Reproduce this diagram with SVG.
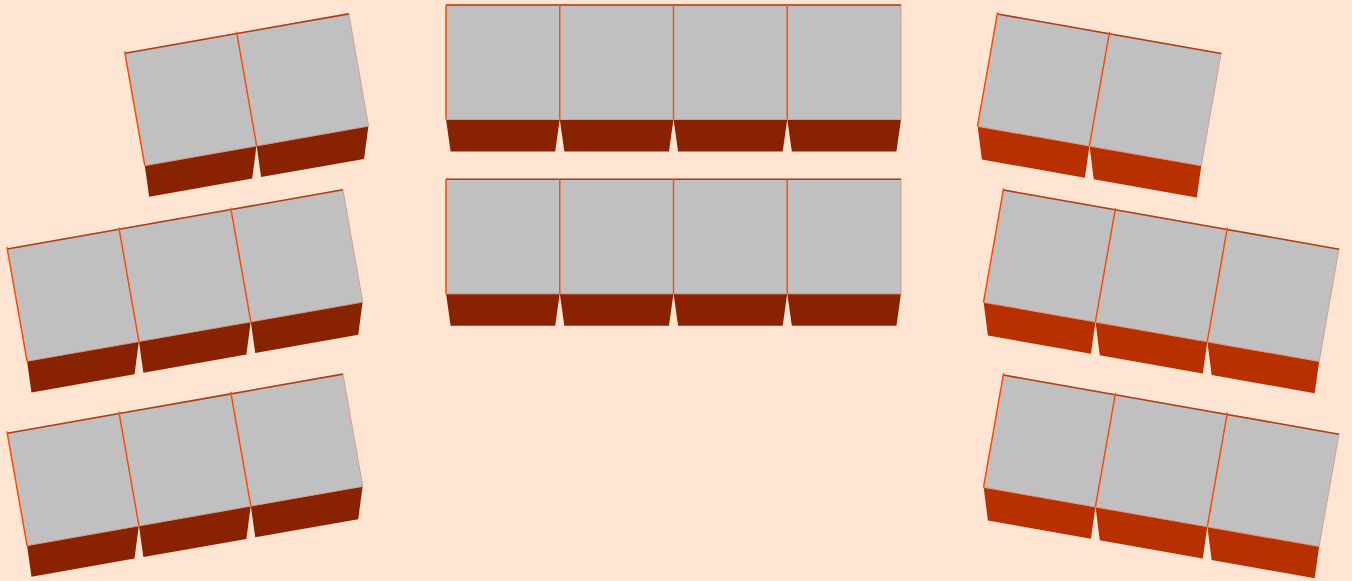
<svg xmlns="http://www.w3.org/2000/svg" xmlns:xlink="http://www.w3.org/1999/xlink" width="1352" height="581" viewBox="0 0 1352 581">
  <style>
    .top { fill: #c0c0c0; stroke: #e49a86; stroke-width: 1; }
    .topedge { stroke: #a8401c; stroke-width: 1.6; fill: none; }
    .leftedge { stroke: #ff4a00; stroke-width: 1.4; fill: none; }
    .frontC { fill: #882200; }
    .frontL { fill: #882200; }
    .frontR { fill: #b83000; }
  </style>
  <defs>
    <g id="deskC">
      <polygon class="frontC" points="0,114 113.75,114 109.2,146.5 4.6,146.5"/>
      <rect class="top" x="0" y="0" width="113.75" height="114.5"/>
      <line class="topedge" x1="0" y1="0" x2="113.75" y2="0"/>
      <line class="leftedge" x1="0" y1="0" x2="0" y2="114.5"/>
    </g>
    <g id="deskL">
      <polygon class="frontL" points="0,113.5 113.6,113.5 103.5,145.5 -1.1,145.5"/>
      <rect class="top" x="0" y="0" width="113.6" height="114"/>
      <line class="topedge" x1="0" y1="0" x2="113.6" y2="0"/>
      <line class="leftedge" x1="0" y1="-2" x2="0" y2="114"/>
    </g>
    <g id="deskR">
      <polygon class="frontR" points="0,113.5 113.6,113.5 114.7,146 10.1,146"/>
      <rect class="top" x="0" y="0" width="113.6" height="114"/>
      <line class="topedge" x1="0" y1="0" x2="113.6" y2="0"/>
      <line class="leftedge" x1="0" y1="-2" x2="0" y2="114"/>
    </g>
  </defs>
  <rect x="0" y="0" width="1352" height="581" fill="#ffe5d2"/>

  <!-- left groups -->
  <g id="left-top" transform="translate(125,53.3) rotate(-10)">
    <g id="lt-1"><use href="#deskL" xlink:href="#deskL" x="0"/></g>
    <g id="lt-2"><use href="#deskL" xlink:href="#deskL" x="113.6"/></g>
  </g>
  <g id="left-mid" transform="translate(7.3,249) rotate(-10)">
    <g id="lm-1"><use href="#deskL" xlink:href="#deskL" x="0"/></g>
    <g id="lm-2"><use href="#deskL" xlink:href="#deskL" x="113.6"/></g>
    <g id="lm-3"><use href="#deskL" xlink:href="#deskL" x="227.2"/></g>
  </g>
  <g id="left-bottom" transform="translate(7.3,433.3) rotate(-10)">
    <g id="lb-1"><use href="#deskL" xlink:href="#deskL" x="0"/></g>
    <g id="lb-2"><use href="#deskL" xlink:href="#deskL" x="113.6"/></g>
    <g id="lb-3"><use href="#deskL" xlink:href="#deskL" x="227.2"/></g>
  </g>

  <!-- center rows -->
  <g id="center-top" transform="translate(446,5)">
    <g id="ct-1"><use href="#deskC" xlink:href="#deskC" x="0"/></g>
    <g id="ct-2"><use href="#deskC" xlink:href="#deskC" x="113.75"/></g>
    <g id="ct-3"><use href="#deskC" xlink:href="#deskC" x="227.5"/></g>
    <g id="ct-4"><use href="#deskC" xlink:href="#deskC" x="341.25"/></g>
  </g>
  <g id="center-bottom" transform="translate(446,179.3)">
    <g id="cb-1"><use href="#deskC" xlink:href="#deskC" x="0"/></g>
    <g id="cb-2"><use href="#deskC" xlink:href="#deskC" x="113.75"/></g>
    <g id="cb-3"><use href="#deskC" xlink:href="#deskC" x="227.5"/></g>
    <g id="cb-4"><use href="#deskC" xlink:href="#deskC" x="341.25"/></g>
  </g>

  <!-- right groups -->
  <g id="right-top" transform="translate(997.3,14) rotate(10)">
    <g id="rt-1"><use href="#deskR" xlink:href="#deskR" x="0"/></g>
    <g id="rt-2"><use href="#deskR" xlink:href="#deskR" x="113.6"/></g>
  </g>
  <g id="right-mid" transform="translate(1003.3,190) rotate(10)">
    <g id="rm-1"><use href="#deskR" xlink:href="#deskR" x="0"/></g>
    <g id="rm-2"><use href="#deskR" xlink:href="#deskR" x="113.6"/></g>
    <g id="rm-3"><use href="#deskR" xlink:href="#deskR" x="227.2"/></g>
  </g>
  <g id="right-bottom" transform="translate(1003.3,375) rotate(10)">
    <g id="rb-1"><use href="#deskR" xlink:href="#deskR" x="0"/></g>
    <g id="rb-2"><use href="#deskR" xlink:href="#deskR" x="113.6"/></g>
    <g id="rb-3"><use href="#deskR" xlink:href="#deskR" x="227.2"/></g>
  </g>
  <g id="connectors"/>
</svg>
